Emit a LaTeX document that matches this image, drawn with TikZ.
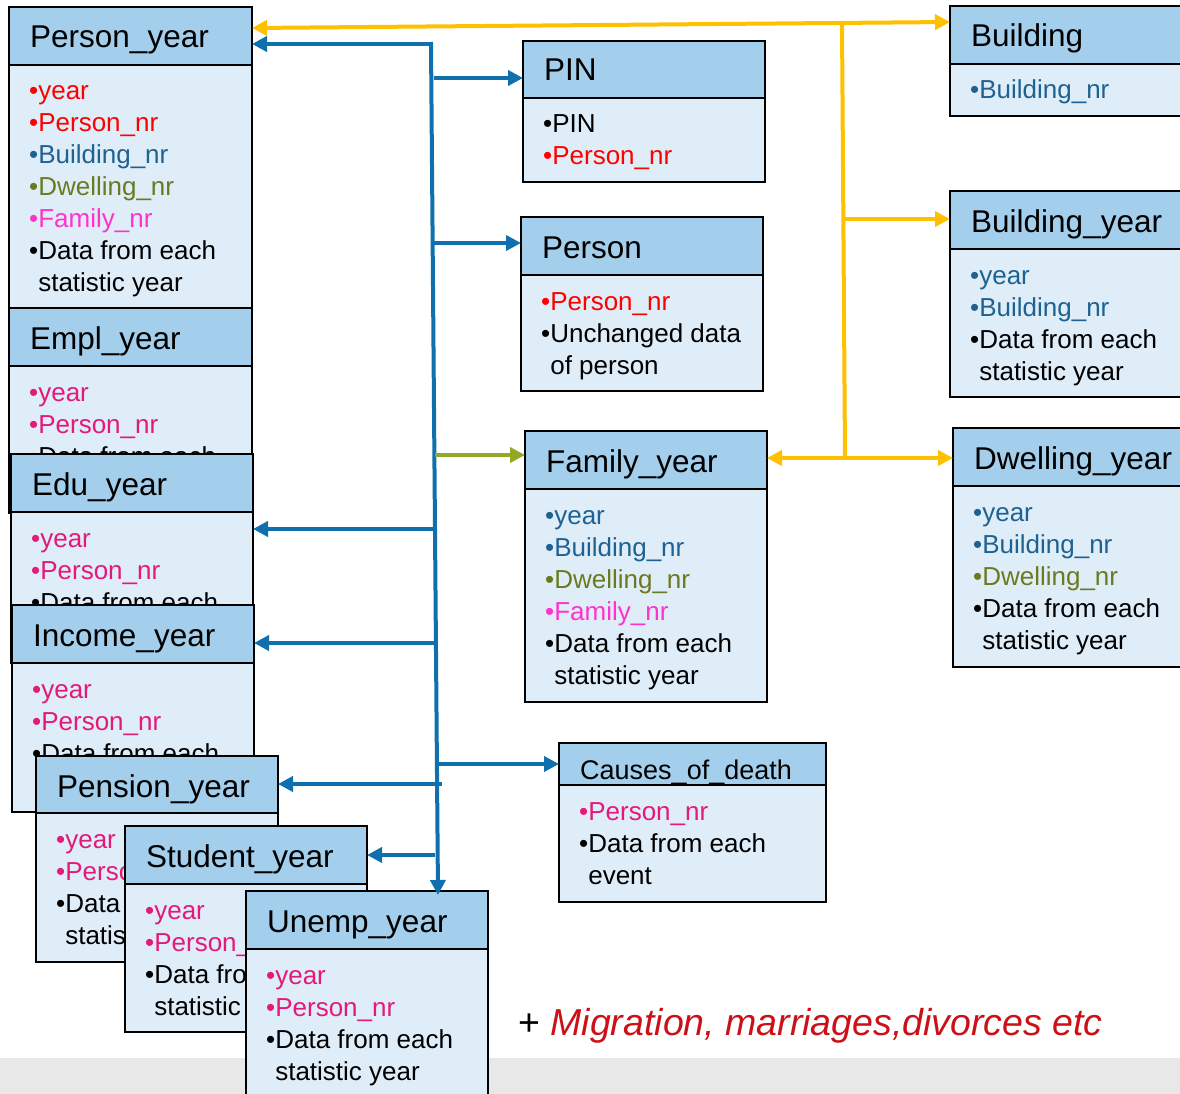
\documentclass[tikz,border=0pt]{standalone}
\usepackage{fontspec}
\setmainfont{Liberation Sans}
\usetikzlibrary{arrows.meta,calc}

% palette
\definecolor{hdrfill}{RGB}{163,207,236}
\definecolor{bdyfill}{RGB}{223,237,249}
\definecolor{kred}{RGB}{255,0,0}
\definecolor{kbld}{RGB}{30,98,145}
\definecolor{kdwl}{RGB}{107,122,30}
\definecolor{kfam}{RGB}{255,51,204}
\definecolor{kpink}{RGB}{228,25,122}
\definecolor{lnblue}{RGB}{16,112,174}
\definecolor{lnyellow}{RGB}{255,192,0}
\definecolor{lngreen}{RGB}{148,168,40}
\definecolor{migred}{RGB}{204,16,24}
\definecolor{band}{RGB}{232,232,232}

\tikzset{
  hdr/.style={draw=black, line width=2pt, fill=hdrfill, anchor=north west,
              inner sep=0pt, outer sep=0pt},
  bdy/.style={draw=black, line width=2pt, fill=bdyfill, anchor=north west,
              inner sep=0pt, outer sep=0pt},
  ttl/.style={anchor=base west, inner sep=0pt, font=\fontsize{31.5}{38}\selectfont},
  txt/.style={anchor=base west, inner sep=0pt, font=\fontsize{26}{32}\selectfont},
  tip/.tip={Triangle[length=15pt,width=15pt]},
  link/.style={line width=4pt, line cap=rect},
  blue link/.style={link, draw=lnblue, -tip},
  green link/.style={link, draw=lngreen, -tip},
  yellow line/.style={link, draw=lnyellow},
  yellow link/.style={link, draw=lnyellow, -tip},
  yellow both/.style={link, draw=lnyellow, tip-tip},
}

% one list entry, optionally coloured, and a wrapped continuation line
\newcommand\dbitem[2][black]{\hbox{\textcolor{#1}{•#2}}}
\newcommand\dbcont[1]{\hbox{\phantom{•}#1}}

% table: name, left, top, right, header bottom, body bottom, title, entries, title baseline offset
\newcommand\dbtable[9]{%
  \pgfmathsetmacro\dbw{#4-#2}%
  \pgfmathsetmacro\dbh{#5-#3}%
  \pgfmathsetmacro\dbb{#6-#5}%
  \node[bdy, minimum width=\dbw pt, minimum height=\dbb pt] (#1-body) at (#2,#5) {};
  \node[hdr, minimum width=\dbw pt, minimum height=\dbh pt] (#1) at (#2,#3) {};
  \node[ttl] (#1-title) at (#2+21,#3+#9) {#7};
  \node[txt] (#1-text) at (#2+20,#5+35) {\vtop{#8}};
}

\begin{document}
\begin{tikzpicture}[x=1pt, y=-1pt]
\useasboundingbox (0,0) rectangle (1180,1094);
\clip (0,0) rectangle (1180,1094);

% footer band
\fill[band] (0,1058) rectangle (1180,1094);

% stacked yearly tables on the left, each partly covering the one before
\dbtable{py}{9}{7}{252}{65}{308}{Person\_year}{%
  \dbitem[kred]{year}\dbitem[kred]{Person\_nr}\dbitem[kbld]{Building\_nr}%
  \dbitem[kdwl]{Dwelling\_nr}\dbitem[kfam]{Family\_nr}%
  \dbitem{Data from each}\dbcont{statistic year}}{41}
\dbtable{empl}{9}{308}{252}{366}{513}{Empl\_year}{%
  \dbitem[kpink]{year}\dbitem[kpink]{Person\_nr}%
  \dbitem{Data from each}}{41}
\dbtable{edu}{11}{454}{253}{512}{663}{Edu\_year}{%
  \dbitem[kpink]{year}\dbitem[kpink]{Person\_nr}%
  \dbitem{Data from each}}{41}
\dbtable{inc}{12}{605}{254}{663}{812}{Income\_year}{%
  \dbitem[kpink]{year}\dbitem[kpink]{Person\_nr}%
  \dbitem{Data from each}}{41}
\dbtable{pen}{36}{756}{278}{813}{962}{Pension\_year}{%
  \dbitem[kpink]{year}\dbitem[kpink]{Perso}%
  \dbitem{Data}\dbcont{statis}}{41}
\dbtable{stu}{125}{826}{367}{884}{1032}{Student\_year}{%
  \dbitem[kpink]{year}\dbitem[kpink]{Person\_}%
  \dbitem{Data fro}\dbcont{statistic}}{41}
\dbtable{une}{246}{891}{488}{949}{1120}{Unemp\_year}{%
  \dbitem[kpink]{year}\dbitem[kpink]{Person\_nr}%
  \dbitem{Data from each}\dbcont{statistic year}}{41}

% middle column
\dbtable{pin}{523}{41}{765}{98}{182}{PIN}{%
  \dbitem{PIN}\dbitem[kred]{Person\_nr}}{40}
\dbtable{per}{521}{217}{763}{275}{391}{Person}{%
  \dbitem[kred]{Person\_nr}\dbitem{Unchanged data}\dbcont{of person}}{41}
\dbtable{fam}{525}{431}{767}{489}{702}{Family\_year}{%
  \dbitem[kbld]{year}\dbitem[kbld]{Building\_nr}\dbitem[kdwl]{Dwelling\_nr}%
  \dbitem[kfam]{Family\_nr}\dbitem{Data from each}\dbcont{statistic year}}{41}
\dbtable{cod}{559}{743}{826}{785}{902}{\fontsize{27}{32}\selectfont Causes\_of\_death}{%
  \dbitem[kpink]{Person\_nr}\dbitem{Data from each}\dbcont{event}}{36}

% right column
\dbtable{bld}{950}{6}{1200}{64}{116}{Building}{%
  \dbitem[kbld]{Building\_nr}}{41}
\dbtable{by}{950}{191}{1200}{249}{397}{Building\_year}{%
  \dbitem[kbld]{year}\dbitem[kbld]{Building\_nr}%
  \dbitem{Data from each}\dbcont{statistic year}}{41}
\dbtable{dwl}{953}{428}{1200}{486}{667}{Dwelling\_year}{%
  \dbitem[kbld]{year}\dbitem[kbld]{Building\_nr}\dbitem[kdwl]{Dwelling\_nr}%
  \dbitem{Data from each}\dbcont{statistic year}}{41}

% blue trunk and its branches
\coordinate (trTop) at (431,44);
\coordinate (bPIN) at (436,78);
\coordinate (bPER) at (436,243);
\coordinate (bFAM) at (437,455);
\coordinate (bEDU) at (433,529);
\coordinate (bINC) at (433,643);
\coordinate (bCOD) at (439,764);
\coordinate (bPEN) at (440,784);
\coordinate (bSTU) at (433,855);

\draw[blue link] (trTop) -- ($(une.north west)+(192,4)$);
\draw[blue link] (trTop) -- (trTop -| py.east);
\draw[blue link] (bPIN) -- (bPIN -| pin.west);
\draw[blue link] (bPER) -- (bPER -| per.west);
\draw[green link] (bFAM) -- (bFAM -| fam.west);
\draw[blue link] (bEDU) -- (bEDU -| edu-body.east);
\draw[blue link] (bINC) -- (bINC -| inc.east);
\draw[blue link] (bCOD) -- (bCOD -| cod.west);
\draw[blue link] (bPEN) -- (bPEN -| pen.east);
\draw[blue link] (bSTU) -- (bSTU -| stu.east);

% yellow links between building, dwelling and family tables
\coordinate (yTop) at (842,24);
\coordinate (yBY) at (844,219);
\coordinate (yBot) at (845,458);
\draw[yellow both] ($(py.north east)+(0,21)$) -- ($(bld.north west)+(0,16)$);
\draw[yellow line] (yTop) -- (yBot);
\draw[yellow link] (yBY) -- (yBY -| by.west);
\draw[yellow both] (yBot -| fam.east) -- (yBot -| dwl.west);

% closing remark
\node[anchor=base west, inner sep=0pt, font=\fontsize{37.5}{44}\selectfont] (more)
  at (518,1035) {+ \textcolor{migred}{\itshape Migration, marriages,divorces etc}};
\end{tikzpicture}
\end{document}
